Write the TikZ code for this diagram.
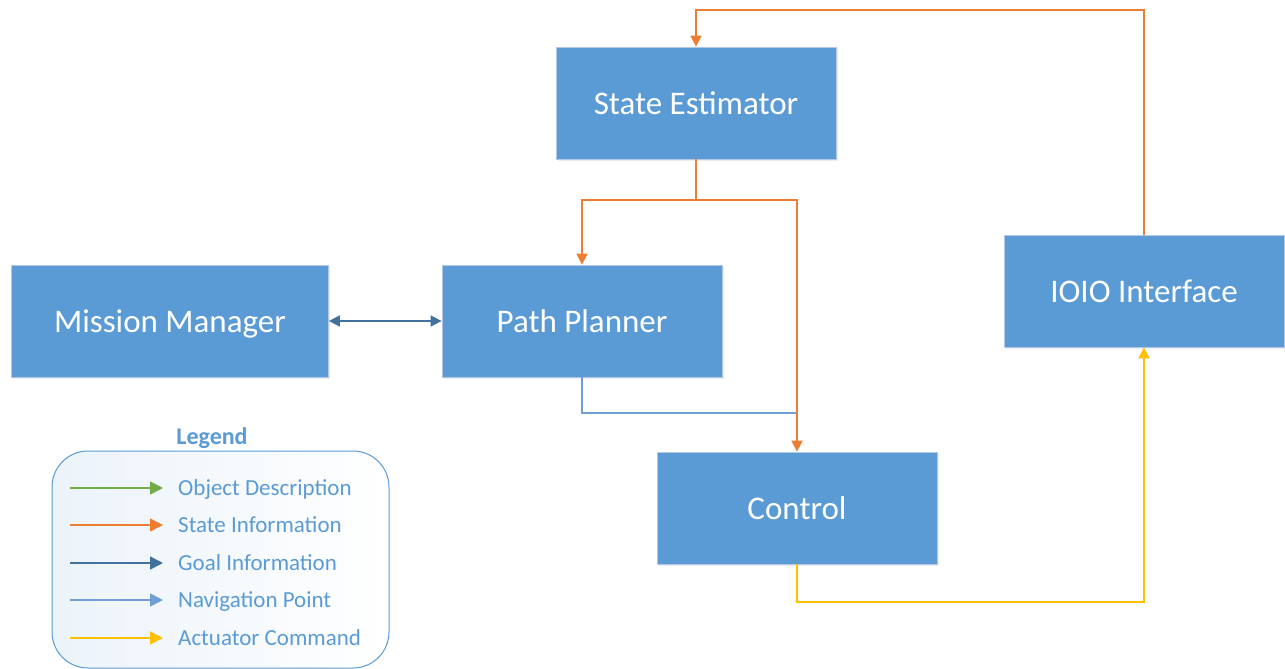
\documentclass[tikz,border=0pt]{standalone}
\usepackage{fontspec}
\setmainfont{Carlito}
\usetikzlibrary{arrows.meta,positioning,shadows}
\definecolor{boxblue}{HTML}{5B9BD5}
\definecolor{boxedge}{HTML}{B4C7E7}
\definecolor{orangec}{HTML}{ED7D31}
\definecolor{darkbluec}{HTML}{41719C}
\definecolor{lightbluec}{HTML}{6F9FD4}
\definecolor{yellowc}{HTML}{FFC000}
\definecolor{greenc}{HTML}{70AD47}
\definecolor{legtext}{HTML}{5B9BD5}
\tikzset{
  block/.style={draw=boxedge, line width=0.8pt, fill=boxblue, text=white, minimum width=280pt, minimum height=112pt, inner sep=0pt, text height=29pt, text depth=7pt, font=\fontsize{33}{38}\selectfont, drop shadow={shadow xshift=1.5pt, shadow yshift=-1.5pt, opacity=0.15}},
  flow/.style={line width=1.6pt, -{Triangle[length=11pt,width=11pt]}},
  legarrow/.style={line width=1.6pt, -{Triangle[length=13pt,width=13pt]}},
  legtxt/.style={anchor=west, text=legtext, inner sep=0pt, text height=19.8pt, text depth=5pt, font=\fontsize{23}{27}\selectfont},
}
\begin{document}
\begin{tikzpicture}[x=1pt,y=-1pt]
\useasboundingbox (0,0) rectangle (1285,669);
\fill[white] (0,0) rectangle (1285,669);
% boxes
\node[block] (se) at (696,103) {State Estimator};
\node[block, minimum width=317pt] (mm) at (170,321) {Mission Manager};
\node[block] (pp) at (582,321) {Path Planner};
\node[block] (io) at (1144,291) {IOIO Interface};
\node[block] (ct) at (797,508) {Control};
% coordinates
\coordinate (seb) at (696,200);
\coordinate (ppb) at (582,413);
\coordinate (ppr) at (797,413);
\coordinate (ctb) at (797,602);
\coordinate (iob) at (1144,602);
\coordinate (iot) at (1144,10);
\coordinate (set) at (696,10);
% connectors
\draw[lightbluec, line width=1.6pt] (pp.south) -- (ppb) -- (ppr);
\draw[orangec, flow] (se.south) -- (seb) -| (pp.north);
\draw[orangec, flow] (seb) -| (ct.north);
\draw[darkbluec, line width=1.6pt, {Triangle[length=11pt,width=11pt]}-{Triangle[length=11pt,width=11pt]}] (mm.east) -- (pp.west);
\draw[yellowc, flow] (ct.south) -- (ctb) -- (iob) -- (io.south);
\draw[orangec, flow] (io.north) -- (iot) -- (set) -- (se.north);
% legend
\node[font=\bfseries\fontsize{24}{28}\selectfont, text=legtext, inner sep=0pt, text height=20pt, text depth=5pt] (lt) at (212,437) {Legend};
\shade[left color=boxblue!12, right color=white, rounded corners=36pt, draw=boxblue, line width=1pt] (52,451) rectangle (389,668);
\node[legtxt] (l1) at (178,488) {Object Description};
\node[legtxt] (l2) at (178,525) {State Information};
\node[legtxt] (l3) at (178,563) {Goal Information};
\node[legtxt] (l4) at (178,600) {Navigation Point};
\node[legtxt] (l5) at (178,638) {Actuator Command};
\coordinate (a1) at (70,488); \coordinate (b1) at (163,488);
\coordinate (a2) at (70,525); \coordinate (b2) at (163,525);
\coordinate (a3) at (70,563); \coordinate (b3) at (163,563);
\coordinate (a4) at (70,600); \coordinate (b4) at (163,600);
\coordinate (a5) at (70,638); \coordinate (b5) at (163,638);
\draw[greenc, legarrow] (a1) -- (b1);
\draw[orangec, legarrow] (a2) -- (b2);
\draw[darkbluec, legarrow] (a3) -- (b3);
\draw[lightbluec, legarrow] (a4) -- (b4);
\draw[yellowc, legarrow] (a5) -- (b5);
\end{tikzpicture}
\end{document}
